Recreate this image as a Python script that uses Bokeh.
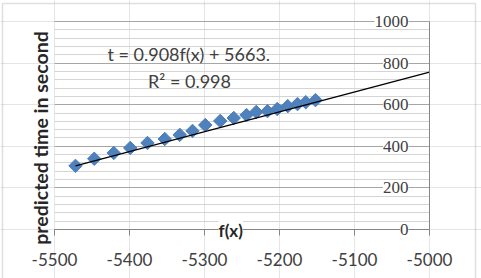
import math
from bokeh.plotting import figure
from bokeh.models import (Range1d, FixedTicker, Grid, Label, LabelSet, LinearAxis,
                          ColumnDataSource, BoxAnnotation)
from bokeh.embed import file_html
from bokeh.resources import INLINE

# ---- data ----
fx = [-5472, -5447, -5421, -5399, -5376, -5353, -5333, -5316, -5299, -5279,
      -5261, -5244, -5231, -5216, -5203, -5189, -5176, -5165, -5152]
t_pred = [306, 340, 368, 392, 416, 435, 455, 474, 502, 522,
          536, 550, 565, 569, 579, 593, 603, 612, 622]
trend_x = [-5472, -5000]
trend_y = [306, 757]

x_ticks = [-5500, -5400, -5300, -5200, -5100, -5000]
x_tick_labels = ["-5500", "-5400", "-5300", "-5200", "-5100", "-5000"]
y_ticks = [0, 200, 400, 600, 800, 1000]
y_tick_labels = ["0", "200", "400", "600", "800", "1000"]
y_minor_ticks = [40, 80, 120, 160, 240, 280, 320, 360, 440, 480, 520, 560,
                 640, 680, 720, 760, 840, 880, 920, 960]

equation_text = "t = 0.908f(x) + 5663."
r2_text = "R\u00b2 = 0.998"
x_title = "f(x)"
y_title = "predicted time in second"

FONT = "Lato"
TXT = "#404040"
AX = "#868686"

# plot area: x -5500..-5000 and y 0..1000; the view extends around it so
# that the whole chart (titles, labels, frame border) sits inside the frame
p = figure(width=481, height=278, title=None,
           x_range=Range1d(-5572.0, -4930.67), y_range=Range1d(-235.58, 1100.96),
           output_backend="svg", toolbar_location=None,
           x_axis_location=None, y_axis_location=None,
           min_border=0, min_border_left=0, min_border_right=0,
           min_border_top=0, min_border_bottom=0,
           background_fill_color="white", border_fill_color="white",
           outline_line_color=None)

ygrid = Grid(dimension=1,
             ticker=FixedTicker(ticks=y_ticks, minor_ticks=y_minor_ticks),
             bounds=(0, 1000), cross_bounds=(-5500, -5000),
             grid_line_color="#A6A6A6", grid_line_width=1,
             minor_grid_line_color="#D4D4D4", minor_grid_line_width=1)
p.add_layout(ygrid)

xa = LinearAxis(fixed_location=0, bounds=(-5500, -5000),
                ticker=FixedTicker(ticks=x_ticks))
xa.major_label_overrides = {t: s for t, s in zip(x_ticks, x_tick_labels)}
xa.minor_tick_line_color = None
xa.major_tick_out = 6
xa.major_tick_in = 0
xa.axis_line_color = AX
xa.major_tick_line_color = AX
xa.major_label_standoff = 18
xa.major_label_text_font = FONT
xa.major_label_text_font_size = "17px"
xa.major_label_text_color = TXT
p.add_layout(xa, "below")

# vertical axis line at f(x) = -5000 (its labels are drawn by the LabelSet below)
ya = LinearAxis(fixed_location=-5000, bounds=(0, 1000),
                ticker=FixedTicker(ticks=[]))
ya.major_tick_line_color = None
ya.minor_tick_line_color = None
ya.axis_line_color = AX
p.add_layout(ya, "right")

p.scatter(fx, t_pred, marker="square", angle=math.pi / 4, size=9.5,
          fill_color="#4F81BD", line_color="#4A7EBB", line_width=1)
p.line(trend_x, trend_y, line_color="black", line_width=1.3)

ysrc = ColumnDataSource(dict(x=[-5000] * len(y_ticks), y=y_ticks, text=y_tick_labels))
p.add_layout(LabelSet(x="x", y="y", text="text", source=ysrc, x_offset=-21,
                      text_align="right", text_baseline="middle",
                      text_font=FONT, text_font_size="17px", text_color=TXT,
                      background_fill_color="white"))

p.add_layout(Label(x=-5321, y=842, text=equation_text, text_align="center",
                   text_baseline="middle", text_font=FONT, text_font_size="18px",
                   text_color=TXT))
p.add_layout(Label(x=-5320, y=713, text=r2_text, text_align="center",
                   text_baseline="middle", text_font=FONT, text_font_size="18px",
                   text_color=TXT))
p.add_layout(Label(x=-5265, y=-5, text=x_title, text_align="center",
                   text_baseline="middle", text_font=FONT, text_font_size="17px",
                   text_font_style="bold", text_color="#262626",
                   background_fill_color="white"))
p.add_layout(Label(x=-5518.7, y=440, text=y_title, angle=math.pi / 2,
                   text_align="center", text_baseline="middle", text_font=FONT,
                   text_font_size="19.5px", text_font_style="bold",
                   text_color="#262626"))

p.add_layout(BoxAnnotation(left=2, right=475, top=3, bottom=290,
                           left_units="canvas", right_units="canvas",
                           top_units="canvas", bottom_units="canvas",
                           fill_color=None, fill_alpha=0,
                           line_color="#999999", line_width=1.5,
                           level="overlay"))

open("out.html", "w").write(file_html(p, INLINE))
